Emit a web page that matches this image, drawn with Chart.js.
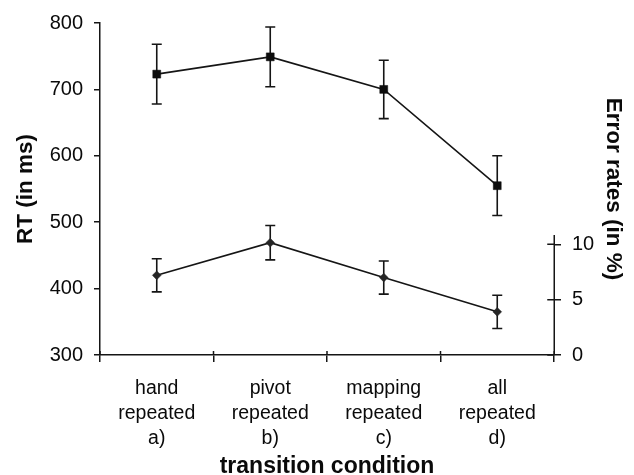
<!DOCTYPE html>
<html><head><meta charset="utf-8">
<script src="https://cdn.jsdelivr.net/npm/chart.js@4.4.0/dist/chart.umd.min.js"></script>
<style>html,body{margin:0;padding:0;background:#fff;}</style>
</head><body>
<canvas id="c" width="634" height="475"></canvas>
<script>
const categories = [["hand","repeated","a)"],["pivot","repeated","b)"],["mapping","repeated","c)"],["all","repeated","d)"]];
const rtValues = [723, 749, 700, 555];
const rtErrors = [45, 45, 44, 45];
const errorRates = [7.2, 10.15, 7.0, 3.9];
const errorRateErrors = [1.5, 1.55, 1.5, 1.5];
const rtTicks = [300, 400, 500, 600, 700, 800];
const errTicks = [0, 5, 10];
const rtRange = [300, 800];
const errRange = [0, 30];
const errAxisTop = 10.85;

const ink = '#151515';
Chart.defaults.font.family = "'Liberation Sans', Arial, Helvetica, sans-serif";
Chart.defaults.color = '#0a0a0a';

const extras = {
  id: 'extras',
  beforeDatasetsDraw(chart) {
    const ctx = chart.ctx;
    ctx.save();
    ctx.strokeStyle = ink; ctx.lineWidth = 1.6;
    chart.data.datasets.forEach((ds, i) => {
      const ys = chart.scales[ds.yAxisID];
      const meta = chart.getDatasetMeta(i);
      ds.data.forEach((v, j) => {
        const px = meta.data[j].x;
        const e = ds.errors[j];
        const t = ys.getPixelForValue(v + e), b = ys.getPixelForValue(v - e);
        ctx.beginPath();
        ctx.moveTo(px, t); ctx.lineTo(px, b);
        ctx.moveTo(px - 5, t); ctx.lineTo(px + 5, t);
        ctx.moveTo(px - 5, b); ctx.lineTo(px + 5, b);
        ctx.stroke();
      });
    });
    ctx.restore();
  },
  afterDraw(chart) {
    const ctx = chart.ctx, ca = chart.chartArea;
    const yR = chart.scales.yErr, x = chart.scales.x;
    ctx.save();
    ctx.strokeStyle = ink; ctx.lineWidth = 1.5;
    ctx.beginPath();
    const rx = Math.round(ca.right) + 0.25;
    ctx.moveTo(rx, yR.getPixelForValue(errRange[0]));
    ctx.lineTo(rx, yR.getPixelForValue(errAxisTop));
    errTicks.forEach(v => { const py = yR.getPixelForValue(v); ctx.moveTo(rx - 7, py); ctx.lineTo(rx, py); });
    for (let i = 0; i <= categories.length; i++) {
      const px = x.getPixelForValue(i - 0.5);
      ctx.moveTo(px, ca.bottom - 4); ctx.lineTo(px, ca.bottom);
    }
    ctx.stroke();
    ctx.restore();
  }
};

new Chart(document.getElementById('c'), {
  type: 'line',
  data: {
    labels: categories,
    datasets: [
      { label: 'RT', data: rtValues, errors: rtErrors, yAxisID: 'yRT',
        borderColor: ink, borderWidth: 1.6, tension: 0,
        pointStyle: 'rect', pointRadius: 5.6, pointBackgroundColor: '#0d0d0d', pointBorderColor: '#0d0d0d', pointBorderWidth: 0.5 },
      { label: 'Error rates', data: errorRates, errors: errorRateErrors, yAxisID: 'yErr',
        borderColor: ink, borderWidth: 1.6, tension: 0,
        pointStyle: 'rectRot', pointRadius: 4.4, pointBackgroundColor: '#262626', pointBorderColor: '#262626', pointBorderWidth: 0.5 }
    ]
  },
  options: {
    responsive: false, animation: false, devicePixelRatio: 1,
    layout: { padding: { top: 23, left: 0, right: 0, bottom: 0 } },
    plugins: { legend: { display: false }, tooltip: { enabled: false } },
    scales: {
      x: {
        type: 'category', position: 'bottom', offset: true,
        grid: { offset: true, drawOnChartArea: false, drawTicks: true, tickLength: 7, color: ink, lineWidth: 1.5 },
        border: { display: true, color: ink, width: 1.5 },
        ticks: { font: { size: 19.5, lineHeight: 1.29 }, padding: 14, maxRotation: 0, autoSkip: false },
        title: { display: true, text: 'transition condition', font: { size: 23, weight: 'bold', lineHeight: 0.7 }, padding: { top: 0, bottom: 0 } },
        afterFit(s) { s.height = 120; }
      },
      yRT: {
        type: 'linear', position: 'left', min: rtRange[0], max: rtRange[1],
        afterBuildTicks(s) { s.ticks = rtTicks.map(v => ({ value: v })); },
        grid: { drawOnChartArea: false, drawTicks: true, tickLength: 6, color: ink, lineWidth: 1.5 },
        border: { display: true, color: ink, width: 1.5 },
        ticks: { font: { size: 20 }, padding: 11 },
        title: { display: true, text: 'RT (in ms)', font: { size: 22.5, weight: 'bold' }, padding: { top: 12, bottom: 0 } },
        afterFit(s) { s.width = 100; }
      },
      yErr: {
        type: 'linear', position: 'right', min: errRange[0], max: errRange[1],
        afterBuildTicks(s) { s.ticks = errTicks.map(v => ({ value: v })); },
        grid: { drawOnChartArea: false, drawTicks: true, tickLength: 7, color: ink, lineWidth: 1.5 },
        border: { display: false },
        ticks: { font: { size: 20 }, padding: 11 },
        title: { display: true, text: 'Error rates (in %)', font: { size: 22.5, weight: 'bold' }, padding: { top: 7, bottom: 0 } },
        afterFit(s) { s.width = 80; }
      }
    }
  },
  plugins: [extras]
});
</script>
</body></html>
